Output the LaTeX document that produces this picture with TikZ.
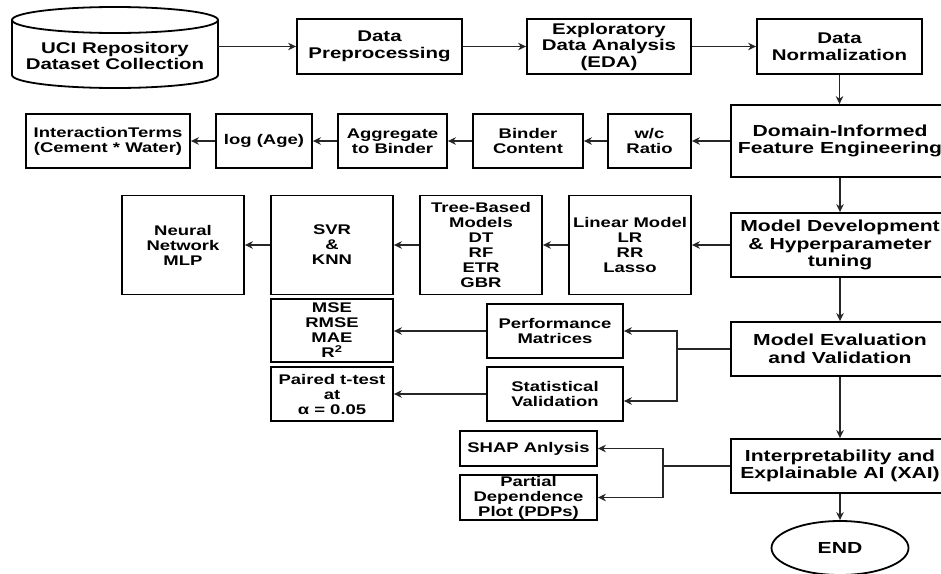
\documentclass[tikz,border=0pt]{standalone}
\usepackage{fontspec}
\setmainfont{Liberation Sans}[FakeStretch=1.32]
\usetikzlibrary{arrows.meta,shapes.geometric}
\newcommand\fntA{\fontsize{16}{17.5}\selectfont\bfseries}
\newcommand\fntB{\fontsize{15.5}{16.5}\selectfont\bfseries}
\newcommand\fntC{\fontsize{14}{15}\selectfont\bfseries}
\tikzset{
  boxbase/.style={draw=black, line width=1.8pt, inner sep=0pt, align=center, text=black},
  bigbox/.style={boxbase, font=\fntA},
  topbox/.style={boxbase, font=\fntB},
  smallbox/.style={boxbase, font=\fntC},
  conn/.style={line width=1.5pt, draw=black!85},
  arr/.style={conn, -{Stealth[length=8pt,width=7.5pt]}},
}
\begin{document}
\begin{tikzpicture}[x=1pt,y=-1pt]
\useasboundingbox (0,0) rectangle (941,573);
% cylinder
\draw[line width=1.8pt] (12,20) -- (12,75) arc[start angle=180, end angle=360, x radius=103pt, y radius=13pt] -- (218,20);
\draw[line width=1.8pt] (115,20) ellipse [x radius=103pt, y radius=13pt];
\node[font=\fntB, align=center, inner sep=0pt, minimum width=206pt] (uci) at (115,56) {UCI Repository\\Dataset Collection};
% top row
\node[topbox, minimum width=165pt, minimum height=55pt] (prep) at (379.5,46.5) {Data\\Preprocessing};
\node[topbox, minimum width=164pt, minimum height=55pt] (eda) at (609,46.5) {Exploratory\\Data Analysis\\(EDA)};
\node[topbox, minimum width=165pt, minimum height=55pt] (norm) at (839.5,46.5) {Data\\Normalization};
% row 2
\node[bigbox, minimum width=218pt, minimum height=72pt] (dom) at (840,141) {Domain-Informed\\Feature Engineering};
\node[smallbox, minimum width=83pt, minimum height=54pt] (wc) at (649.5,141) {w/c\\Ratio};
\node[smallbox, minimum width=110pt, minimum height=54pt] (binder) at (528,141) {Binder\\Content};
\node[smallbox, minimum width=109pt, minimum height=54pt] (agg) at (392.5,141) {Aggregate\\to Binder};
\node[smallbox, minimum width=96pt, minimum height=54pt] (logage) at (264,141) {log (Age)};
\node[smallbox, minimum width=164pt, minimum height=54pt] (inter) at (108,141) {InteractionTerms\\(Cement * Water)};
% row 3
\node[bigbox, minimum width=218pt, minimum height=64pt] (mdev) at (840,245) {Model Development\\\& Hyperparameter\\tuning};
\node[smallbox, minimum width=122pt, minimum height=99pt] (lin) at (630,245) {Linear Model\\LR\\RR\\Lasso};
\node[smallbox, minimum width=122pt, minimum height=99pt] (tree) at (481,245) {Tree-Based\\Models\\DT\\RF\\ETR\\GBR};
\node[smallbox, minimum width=122pt, minimum height=99pt] (svr) at (332,245) {SVR\\\&\\KNN};
\node[smallbox, minimum width=122pt, minimum height=99pt] (nn) at (183,245) {Neural\\Network\\MLP};
% row 4
\node[bigbox, minimum width=218pt, minimum height=54pt] (meval) at (840,349) {Model Evaluation\\and Validation};
\node[smallbox, minimum width=136pt, minimum height=54pt] (perf) at (555,331) {Performance\\Matrices};
\node[smallbox, minimum width=136pt, minimum height=54pt] (stat) at (555,394) {Statistical\\Validation};
\node[smallbox, minimum width=122pt, minimum height=63pt] (metr) at (332,330.5) {MSE\\RMSE\\MAE\\R\textsuperscript{2}};
\node[smallbox, minimum width=122pt, minimum height=54pt] (paired) at (332,394) {Paired t-test\\at\\α = 0.05};
% row 5
\node[bigbox, minimum width=218pt, minimum height=54pt] (interp) at (840,466) {Interpretability and\\Explainable AI (XAI)};
\node[smallbox, minimum width=137pt, minimum height=35pt] (shap) at (528.5,448.5) {SHAP Anlysis};
\node[smallbox, minimum width=137pt, minimum height=45pt] (pdp) at (528.5,497.5) {Partial\\Dependence\\Plot (PDPs)};
\node[boxbase, font=\fntA, shape=ellipse, minimum width=137pt, minimum height=54pt] (endn) at (840,548) {END};
% connectors
\draw[arr] (uci.east |- prep.west) -- (prep.west);
\draw[arr] (prep.east) -- (eda.west);
\draw[arr] (eda.east) -- (norm.west);
\draw[arr] (norm.south) -- (norm.south |- dom.north);
\draw[arr] (dom.west) -- (wc.east);
\draw[arr] (wc.west) -- (binder.east);
\draw[arr] (binder.west) -- (agg.east);
\draw[arr] (agg.west) -- (logage.east);
\draw[arr] (logage.west) -- (inter.east);
\draw[arr] (dom.south) -- (mdev.north);
\draw[arr] (mdev.west) -- (mdev.west -| lin.east);
\draw[arr] (lin.west) -- (tree.east);
\draw[arr] (tree.west) -- (svr.east);
\draw[arr] (svr.west) -- (nn.east);
\draw[arr] (mdev.south) -- (meval.north);
\draw[conn] (meval.west) -- ++(-53,0) coordinate (mb);
\draw[arr] (mb) |- (perf.east);
\draw[arr] (mb) |- ([yshift=-7pt]stat.east);
\draw[arr] (perf.west) -- (perf.west -| metr.east);
\draw[arr] (stat.west) -- (paired.east);
\draw[arr] (meval.south) -- (interp.north);
\draw[conn] (interp.west) -- ++(-67,0) coordinate (ib);
\draw[arr] (ib) |- (shap.east);
\draw[arr] (ib) |- (pdp.east);
\draw[arr] (interp.south) -- (endn.north);
\end{tikzpicture}
\end{document}
